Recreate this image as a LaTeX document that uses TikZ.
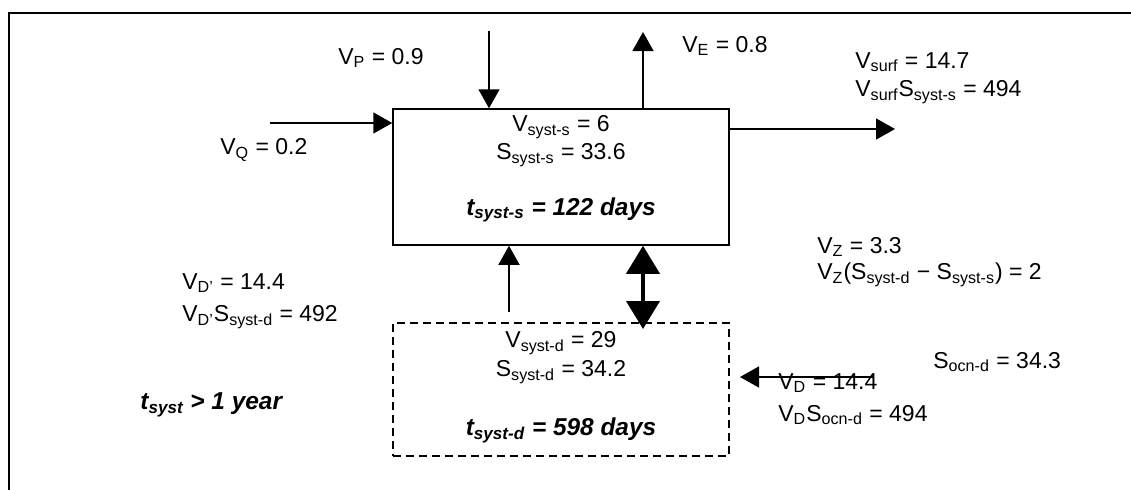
\documentclass[tikz,border=0pt]{standalone}
\usepackage{fontspec}
\setmainfont{Liberation Sans}
\usetikzlibrary{positioning, arrows.meta}

\newcommand{\lsub}[1]{\textsubscript{#1}}
\newcommand{\tres}[2]{{\fontsize{12.2}{14}\selectfont\textbf{\textit{t\lsub{#1} #2}}}}

\begin{document}
\begin{tikzpicture}[x=0.5pt, y=-0.5pt,
    every node/.style={font=\fontsize{11.5}{14}\selectfont, inner sep=0pt},
    lbl/.style={anchor=west},
    flow/.style={-{Triangle[length=9.5pt, width=10.5pt]}, line width=0.75pt},
    mix/.style={{Triangle[length=14pt, width=16.5pt]}-{Triangle[length=14pt, width=16.5pt]}, line width=2pt},
    box/.style={draw, line width=0.75pt, minimum width=168pt, minimum height=68pt}]
    \useasboundingbox (0,0) rectangle (1131,489);

    % Outer frame
    \draw[line width=1pt] (1140,13) -- (9,13) -- (9,500);

    % Surface and deep boxes
    \node[box] (syss) at (561,177) {};
    \node[box, line width=1.4pt, dash pattern=on 4pt off 2.5pt,
          minimum height=66.5pt] (sysd) at (561,389.5) {};

    % Box contents
    \node (vss) at (561,127) {V\lsub{syst-s} = 6};
    \node (sss) at (561,155) {S\lsub{syst-s} = 33.6};
    \node (tss) at (561,210) {\tres{syst-s}{= 122 days}};
    \node (vsd) at (561,343) {V\lsub{syst-d} = 29};
    \node (ssd) at (561,372) {S\lsub{syst-d} = 34.2};
    \node (tsd) at (561,430) {\tres{syst-d}{= 598 days}};

    % Fluxes
    \coordinate (pTop) at (489,31);
    \coordinate (eTop) at (643,32);
    \coordinate (qStart) at (270,123);
    \coordinate (surfEnd) at (895,129);
    \coordinate (upStart) at (509,312);
    \coordinate (mixEnd) at (643,329);
    \coordinate (dStart) at (873,377);
    \coordinate (dEnd) at (740,377);

    \draw[flow] (pTop) -- (pTop |- syss.north);
    \draw[flow] (eTop |- syss.north) -- (eTop);
    \draw[flow] (qStart) -- (qStart -| syss.west);
    \draw[flow] (surfEnd -| syss.east) -- (surfEnd);
    \draw[flow] (upStart) -- (upStart |- syss.south);
    \draw[mix] (mixEnd |- syss.south) -- (mixEnd);
    \draw[flow] (dStart) -- (dEnd);

    % Labels
    \node[lbl] (vp) at (338,58) {V\lsub{P} = 0.9};
    \node[lbl] (ve) at (682,46) {V\lsub{E} = 0.8};
    \node[lbl] (vq) at (220,150) {V\lsub{Q} = 0.2};
    \node[lbl] (vsurf) at (855,62) {V\lsub{surf} = 14.7};
    \node[lbl] (vsurfs) at (855,92) {V\lsub{surf}S\lsub{syst-s} = 494};
    \node[lbl] (vz) at (817,247) {V\lsub{Z} = 3.3};
    \node[lbl] (vzs) at (817,275) {V\lsub{Z}(S\lsub{syst-d} − S\lsub{syst-s}) = 2};
    \node[lbl] (vdp) at (182,283) {V\lsub{D'} = 14.4};
    \node[lbl] (vdps) at (182,317) {V\lsub{D'}S\lsub{syst-d} = 492};
    \node[lbl] (tsys) at (140,405) {\tres{syst}{> 1 year}};
    \node[lbl] (socn) at (933,362) {S\lsub{ocn-d} = 34.3};
    \node[lbl] (vd) at (778,383) {V\lsub{D} = 14.4};
    \node[lbl] (vds) at (778,415) {V\lsub{D}S\lsub{ocn-d} = 494};
\end{tikzpicture}
\end{document}
